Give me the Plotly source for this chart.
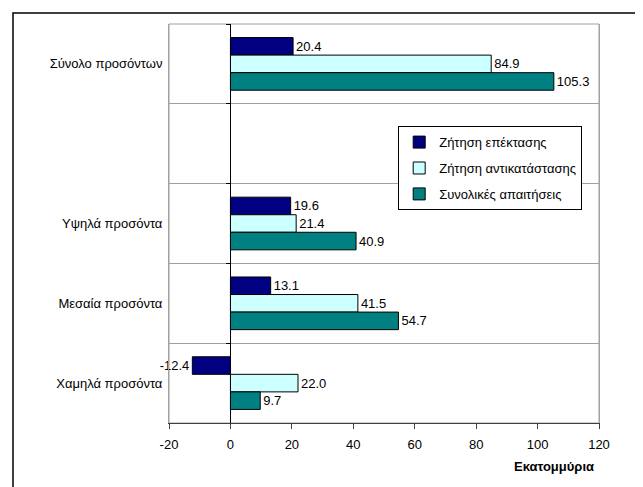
import plotly.graph_objects as go

categories = ["Σύνολο προσόντων", " ", "Υψηλά προσόντα", "Μεσαία προσόντα", "Χαμηλά προσόντα"]
series_names = ["Ζήτηση επέκτασης", "Ζήτηση αντικατάστασης", "Συνολικές απαιτήσεις"]
expansion = [20.4, None, 19.6, 13.1, -12.4]
replacement = [84.9, None, 21.4, 41.5, 22.0]
total = [105.3, None, 40.9, 54.7, 9.7]
colors = ["#000080", "#CCFFFF", "#008080"]
x_ticks = [-20, 0, 20, 40, 60, 80, 100, 120]
x_title = "Εκατομμύρια"

FONT = "Liberation Sans, Arial, sans-serif"
FS = 13

fig = go.Figure()
for i, (name, vals) in enumerate(zip(series_names, [expansion, replacement, total])):
    fig.add_trace(go.Bar(
        y=categories, x=vals, name=name, orientation="h",
        marker=dict(color=colors[i], line=dict(color="black", width=1)),
        texttemplate="%{x:.1f}", textposition="outside", cliponaxis=False,
        textfont=dict(family=FONT, size=FS, color="black"),
        legendgroup=f"g{i}",
    ))

# invisible helper trace for the y-axis at x=0 (ticks at boundaries)
fig.add_trace(go.Bar(y=categories, x=[None]*len(categories), yaxis="y2",
                     orientation="h", showlegend=False, hoverinfo="skip"))

fig.update_layout(
    width=635, height=479,
    margin=dict(l=161, r=44, t=16, b=64),
    paper_bgcolor="white", plot_bgcolor="white",
    barmode="group", bargap=0.34, bargroupgap=0,
    font=dict(family=FONT, size=FS, color="black"),
    xaxis=dict(range=[-20, 120], tickvals=x_ticks, ticktext=[str(v) for v in x_ticks],
               showgrid=False, zeroline=True, zerolinecolor="black", zerolinewidth=1,
               showline=True, linecolor="#404040", linewidth=1,
               ticks="outside", ticklen=5, tickcolor="#404040", ticklabelstandoff=4,
               tickfont=dict(family=FONT, size=FS, color="black")),
    yaxis=dict(type="category", categoryorder="array", categoryarray=categories,
               autorange="reversed", tickson="boundaries", ticks="",
               showgrid=True, gridcolor="#A0A0A0", gridwidth=1,
               showline=True, linecolor="#A0A0A0", mirror=True,
               tickfont=dict(family=FONT, size=FS, color="black"), ticklabelstandoff=3),
    yaxis2=dict(type="category", categoryorder="array", categoryarray=categories,
                autorange="reversed", overlaying="y", anchor="free",
                position=20/140, tickson="boundaries", ticks="outside", ticklen=4,
                tickcolor="black", showticklabels=False, showgrid=False, showline=False),
    legend=dict(x=0.533, y=0.744, xanchor="left", yanchor="top",
                bgcolor="white", bordercolor="black", borderwidth=1,
                font=dict(family=FONT, size=FS, color="black"),
                tracegroupgap=6, traceorder="grouped"),
    showlegend=True,
)

fig.add_annotation(text=f"<b>{x_title}</b>", xref="paper", yref="paper",
                   x=0.993, y=-0.108, xanchor="right", yanchor="middle",
                   showarrow=False, font=dict(family=FONT, size=FS, color="black"))

# plot-area top border and outer chart border
fig.add_shape(type="rect", xref="paper", yref="paper", x0=0, x1=1, y0=0, y1=1,
              line=dict(color="#A0A0A0", width=1), layer="below")
fig.add_shape(type="rect", xref="paper", yref="paper",
              x0=(13 - 169) / 430, x1=(638 - 169) / 430,
              y0=(423 - 495) / 399, y1=(423 - 13) / 399,
              line=dict(color="black", width=1.5))

fig.write_html("out.html")
